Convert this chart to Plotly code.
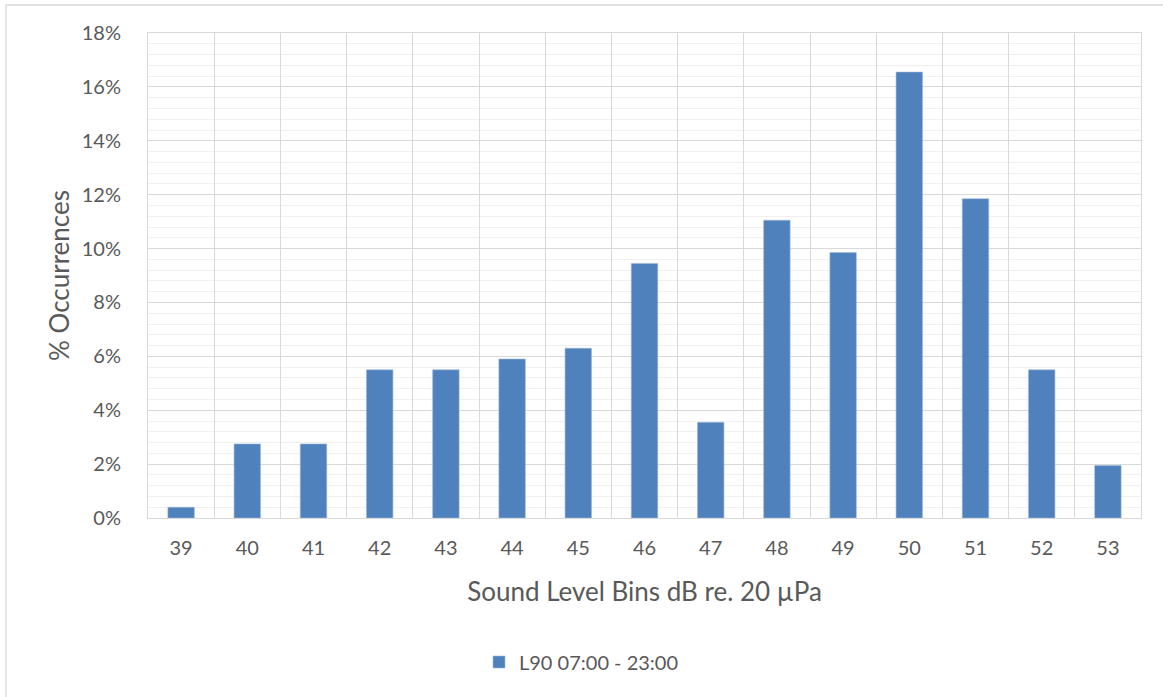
import plotly.graph_objects as go

categories = ["39", "40", "41", "42", "43", "44", "45", "46", "47", "48", "49", "50", "51", "52", "53"]
values = [0.4, 2.75, 2.75, 5.5, 5.5, 5.9, 6.3, 9.45, 3.55, 11.05, 9.85, 16.55, 11.85, 5.5, 1.95]
series_name = "L90 07:00 - 23:00"
y_ticks = [0, 2, 4, 6, 8, 10, 12, 14, 16, 18]
y_tick_text = [f"{v}%" for v in y_ticks]

W, H = 1163, 697
ml, mr, mt, mb = 148, 22, 33, 179
pw, ph = W - ml - mr, H - mt - mb

fig = go.Figure()
fig.add_trace(go.Bar(x=categories, y=values, name=series_name,
                     marker=dict(color="#4f81bd", line=dict(width=0.6, color="#9fb9dd"))))

font_fam = "Lato, 'Open Sans', sans-serif"
fig.update_layout(
    width=W, height=H,
    margin=dict(l=ml, r=mr, t=mt, b=mb),
    paper_bgcolor="white", plot_bgcolor="white",
    bargap=0.6,
    font=dict(family=font_fam, color="#595959", size=20),
    showlegend=True,
    legend=dict(orientation="h", x=0.5, xanchor="center", xref="container",
                y=(H - 662) / H, yref="container", yanchor="middle",
                font=dict(size=20, color="#595959")),
    xaxis=dict(
        type="category", tickson="boundaries", showgrid=True, gridcolor="#d9d9d9", gridwidth=1.3,
        showline=True, linecolor="#d9d9d9", linewidth=1.3, mirror=True,
        ticks="", ticklabelstandoff=12, tickfont=dict(size=20, color="#595959"),
        title=dict(text="Sound Level Bins dB re. 20 µPa", font=dict(size=26, color="#595959"), standoff=24),
    ),
    yaxis=dict(
        range=[0, 18], tickmode="array", tickvals=y_ticks, ticktext=y_tick_text,
        showgrid=True, gridcolor="#d9d9d9", gridwidth=1.3,
        zeroline=False, showline=True, linecolor="#d9d9d9", mirror=True,
        minor=dict(dtick=0.4, tick0=0, showgrid=True, gridcolor="#f0f0f0", gridwidth=1.3),
        ticks="", ticklabelstandoff=22, tickfont=dict(size=20, color="#595959"),
        title=dict(text="% Occurrences", font=dict(size=26, color="#595959"), standoff=4),
    ),
)

# outer chart-area border (left and top visible)
fig.add_shape(type="rect", xref="paper", yref="paper",
              x0=(6 - ml) / pw, x1=(W + 20 - ml) / pw,
              y0=(H - mb - 740) / ph, y1=(H - mb - 5) / ph,
              line=dict(color="#d9d9d9", width=1.3), fillcolor="rgba(0,0,0,0)", layer="below")

fig.write_html("out.html", config={"displayModeBar": False},
               post_script="document.body.style.margin='0';document.body.style.overflow='hidden';")
